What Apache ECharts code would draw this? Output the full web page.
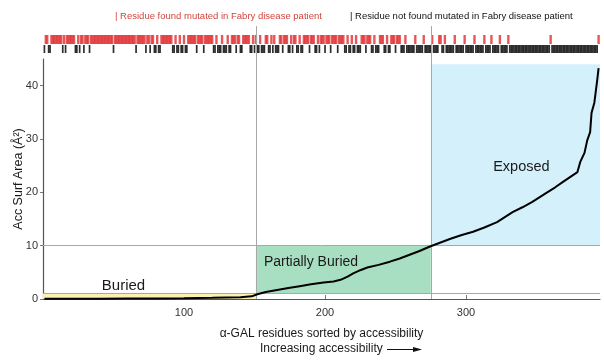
<!DOCTYPE html>
<html>
<head>
<meta charset="utf-8">
<script src="https://cdn.jsdelivr.net/npm/echarts@6/dist/echarts.min.js"></script>
<style>
html, body {margin: 0; padding: 0; background: #fff;}
#chart {width: 604px; height: 362px;}
</style>
</head>
<body>
<div id="chart"></div>
<script>
// residues sorted by accessibility
var residueCount = 394;
var curveX = [1, 20, 40, 60, 80, 100, 120, 140, 148, 152, 158, 166, 174, 182, 190, 199, 206, 211, 216, 220, 225, 230, 238, 246, 253, 260, 267, 274, 281, 289, 297, 305, 313, 322, 333, 340, 347, 357, 363, 369, 374, 379, 381, 384, 386, 388, 389, 391, 393, 394];
var curveY = [0.03, 0.05, 0.07, 0.09, 0.11, 0.15, 0.22, 0.35, 0.5, 0.9, 1.3, 1.7, 2.05, 2.4, 2.75, 3.1, 3.3, 3.6, 4.2, 4.8, 5.4, 5.9, 6.4, 7.0, 7.6, 8.3, 9.0, 9.8, 10.5, 11.3, 12.0, 12.6, 13.4, 14.4, 16.3, 17.2, 18.2, 19.9, 20.9, 22.0, 22.9, 23.8, 25.7, 27.4, 29.8, 31.3, 34.9, 36.8, 41.0, 43.3];

// residues NOT found mutated (black ticks), as [from, to] runs; the rest are red
var blackRuns = [[1, 1], [4, 5], [14, 14], [16, 16], [23, 24], [26, 26], [29, 29], [33, 33], [50, 50], [66, 66],
    [73, 73], [76, 76], [79, 80], [82, 83], [92, 93], [95, 96], [98, 99], [101, 102], [109, 109], [114, 114],
    [121, 122], [124, 126], [128, 130], [132, 133], [137, 137], [140, 141], [147, 148], [150, 150], [152, 153],
    [155, 157], [160, 161], [163, 163], [165, 167], [170, 170], [174, 175], [177, 177], [180, 181], [183, 184],
    [189, 189], [193, 194], [196, 196], [200, 200], [204, 204], [209, 209], [214, 215], [217, 218], [220, 221],
    [223, 225], [229, 229], [233, 234], [236, 238], [242, 243], [245, 246], [250, 250], [254, 256], [258, 263],
    [265, 269], [271, 275], [277, 280], [283, 284], [286, 291], [293, 298], [300, 305], [307, 312],
    [314, 317], [319, 323], [325, 329], [331, 359], [361, 393]];

var regionNames = ['Buried', 'Partially Buried', 'Exposed'];
var regionX = [[0, 151], [151, 275], [275, 395]];
var regionY = [[0, 1], [1, 10], [10, 44]];
var regionColors = ['#fbf1b3', '#a8dfc2', '#d4f1fb'];
var xTicks = [100, 200, 300];
var yTicks = [0, 10, 20, 30, 40];

var font = 'Liberation Sans, Arial, sans-serif';
var red = '#e2393c';

var curve = [];
for (var i = 0; i < curveX.length; i++) {
    curve.push([curveX[i], curveY[i]]);
}
var ticks = [];
for (var r = 1; r <= residueCount; r++) {
    var m = 1;
    for (var k = 0; k < blackRuns.length; k++) {
        if (r >= blackRuns[k][0] && r <= blackRuns[k][1]) { m = 0; break; }
    }
    ticks.push([r, m]);
}

var areas = [];
var labelPos = [
    {position: 'top', offset: [-26, 0], distance: 0, fontSize: 15},
    {position: 'insideTopLeft', offset: [0, 1], distance: 8},
    {position: 'inside', offset: [6, 12], fontSize: 14.5}
];
for (var j = 0; j < regionNames.length; j++) {
    areas.push([{
        name: regionNames[j],
        xAxis: regionX[j][0], yAxis: regionY[j][0],
        itemStyle: {color: regionColors[j]},
        label: Object.assign({show: true, color: '#1a1a1a', fontSize: 14, fontFamily: font}, labelPos[j])
    }, {xAxis: regionX[j][1], yAxis: regionY[j][1]}]);
}

var chart = echarts.init(document.getElementById('chart'));
chart.setOption({
    animation: false,
    grid: [
        {left: 43, right: 4, top: 59, bottom: 63, outerBoundsMode: 'none', containLabel: false},
        {left: 43, right: 4, top: 26, height: 33, outerBoundsMode: 'none', containLabel: false}
    ],
    xAxis: [{
        type: 'value', min: 0, max: 395, gridIndex: 0,
        name: 'α-GAL residues sorted by accessibility',
        nameLocation: 'middle', nameGap: 29,
        nameTextStyle: {color: '#1a1a1a', fontSize: 12, fontFamily: font},
        axisLine: {lineStyle: {color: '#555', width: 1.2}},
        axisTick: {inside: true, length: 4, customValues: xTicks, lineStyle: {color: '#777'}},
        axisLabel: {customValues: xTicks, color: '#333', fontSize: 11, fontFamily: font, margin: 8},
        splitLine: {show: false}
    }, {
        type: 'value', min: 0, max: 395, gridIndex: 1, show: false
    }],
    yAxis: [{
        type: 'value', min: 0, max: 45, gridIndex: 0,
        name: 'Acc Surf Area (Å²)',
        nameLocation: 'middle', nameGap: 18, nameMoveOverlap: false,
        nameTextStyle: {color: '#1a1a1a', fontSize: 12.5, fontFamily: font},
        axisLine: {show: true, lineStyle: {color: '#555', width: 1.2}},
        axisTick: {show: true, length: 3, customValues: yTicks, lineStyle: {color: '#777'}},
        axisLabel: {customValues: yTicks, color: '#333', fontSize: 11, fontFamily: font, margin: 5},
        splitLine: {show: false}
    }, {
        type: 'value', min: 0, max: 33, gridIndex: 1, show: false
    }],
    graphic: [
        {type: 'text', left: 115, top: 11, style: {text: '| Residue found mutated in Fabry disease patient', fill: '#d2443f', fontSize: 9.5, fontFamily: font}},
        {type: 'text', left: 350, top: 11, style: {text: '| Residue not found mutated in Fabry disease patient', fill: '#111', fontSize: 9.5, fontFamily: font}},
        {type: 'text', left: 260, top: 343, style: {text: 'Increasing accessibility', fill: '#1a1a1a', fontSize: 12, fontFamily: font}},
        {type: 'line', shape: {x1: 387, y1: 349.5, x2: 416, y2: 349.5}, style: {stroke: '#111', lineWidth: 1}},
        {type: 'polygon', shape: {points: [[422, 349.5], [413, 347], [413, 352]]}, style: {fill: '#111'}}
    ],
    series: [{
        type: 'line', xAxisIndex: 0, yAxisIndex: 0, z: 1,
        data: [], silent: true,
        markArea: {silent: true, data: areas},
        markLine: {
            silent: true, symbol: 'none', label: {show: false},
            lineStyle: {color: '#a8a8a8', width: 1, type: 'solid'},
            data: [{yAxis: 1}, {yAxis: 10}, {xAxis: 151}, {xAxis: 275}]
        }
    }, {
        type: 'line', xAxisIndex: 0, yAxisIndex: 0, z: 5,
        data: curve, showSymbol: false, smooth: false,
        lineStyle: {color: '#000', width: 2}
    }, {
        type: 'custom', xAxisIndex: 1, yAxisIndex: 1,
        data: ticks,
        renderItem: function (params, api) {
            var idx = api.value(0), mut = api.value(1);
            // red ticks drawn a bit wider than one residue so neighbours merge
            var half = mut ? 0.85 : 0.6;
            var p0 = api.coord([idx - half, mut ? 24 : 14]);
            var p1 = api.coord([idx + half, mut ? 15 : 6]);
            return {
                type: 'rect',
                shape: {x: p0[0], y: p0[1], width: p1[0] - p0[0], height: p1[1] - p0[1]},
                style: {fill: mut ? red : '#1c1c1c', opacity: mut ? 0.85 : 0.92}
            };
        },
        markLine: {
            silent: true, symbol: 'none', label: {show: false},
            lineStyle: {color: '#a8a8a8', width: 1, type: 'solid'},
            data: [{xAxis: 151}, {xAxis: 275}]
        }
    }]
});
</script>
</body>
</html>
